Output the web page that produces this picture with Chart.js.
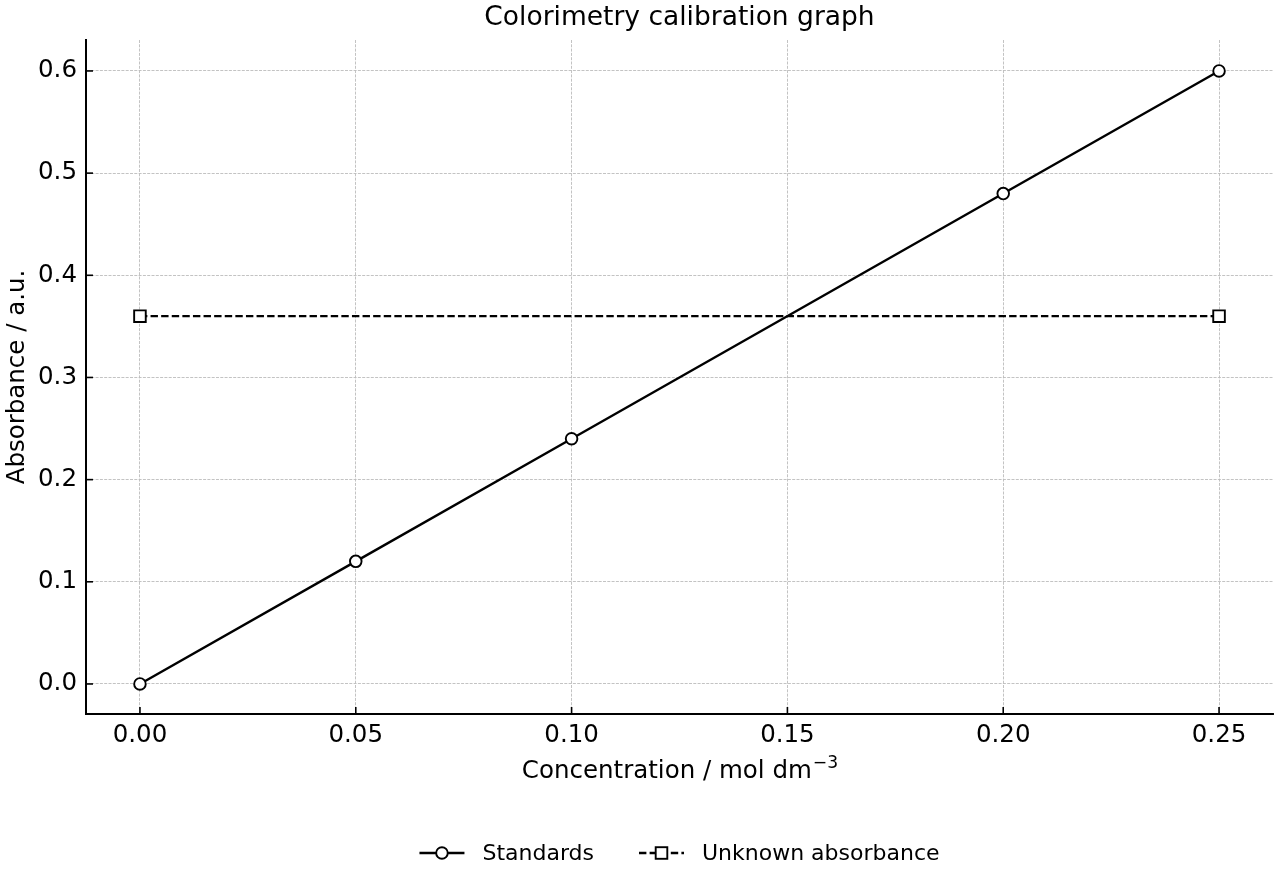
<!DOCTYPE html>
<html>
<head>
<meta charset="utf-8">
<script src="https://cdn.jsdelivr.net/npm/chart.js@4.4.1/dist/chart.umd.min.js"></script>
<style>
html,body{margin:0;padding:0;background:#fff;}
#wrap{width:1280px;height:880px;position:relative;}
</style>
</head>
<body>
<div id="wrap"><canvas id="c" width="1280" height="880"></canvas></div>
<script>
const chartTitle = "Colorimetry calibration graph";
const xTitleMain = "Concentration / mol dm";
const xTitleSup = "\u22123";
const yTitle = "Absorbance / a.u.";
const standardsX = [0.00, 0.05, 0.10, 0.20, 0.25];
const standardsY = [0.00, 0.12, 0.24, 0.48, 0.60];
const unknownX = [0.00, 0.25];
const unknownY = [0.36, 0.36];
const xTicks = [0.00, 0.05, 0.10, 0.15, 0.20, 0.25];
const yTicks = [0.0, 0.1, 0.2, 0.3, 0.4, 0.5, 0.6];
const seriesNames = ["Standards", "Unknown absorbance"];

const FONT = "'DejaVu Sans', sans-serif";
const TICK_SIZE = 24.5, AXIS_TITLE_SIZE = 24.5, TITLE_SIZE = 26.5, LEGEND_SIZE = 22;
const GRID_COLOR = '#bcbcbc';
const LINE_W = 2.4, MARK_W = 1.9;

const decorPlugin = {
  id: 'decor',
  afterDraw(chart) {
    const ctx = chart.ctx;
    const a = chart.chartArea;
    const xs = chart.scales.x, ys = chart.scales.y;
    ctx.save();
    // inward ticks
    ctx.strokeStyle = '#000';
    ctx.lineWidth = 1.6;
    xTicks.forEach(v => {
      const px = xs.getPixelForValue(v);
      ctx.beginPath(); ctx.moveTo(px, a.bottom); ctx.lineTo(px, a.bottom - 7); ctx.stroke();
    });
    yTicks.forEach(v => {
      const py = ys.getPixelForValue(v);
      ctx.beginPath(); ctx.moveTo(a.left, py); ctx.lineTo(a.left + 7, py); ctx.stroke();
    });
    // title
    ctx.fillStyle = '#000';
    ctx.textAlign = 'center';
    ctx.textBaseline = 'middle';
    ctx.font = TITLE_SIZE + 'px ' + FONT;
    ctx.fillText(chartTitle, (a.left + a.right) / 2, 18);
    // x title with superscript
    ctx.font = AXIS_TITLE_SIZE + 'px ' + FONT;
    const wMain = ctx.measureText(xTitleMain).width;
    const supSize = AXIS_TITLE_SIZE * 0.7;
    ctx.font = supSize + 'px ' + FONT;
    const wSup = ctx.measureText(xTitleSup).width;
    const cx = (a.left + a.right) / 2;
    const startX = cx - (wMain + wSup) / 2;
    ctx.textAlign = 'left';
    ctx.textBaseline = 'alphabetic';
    ctx.font = AXIS_TITLE_SIZE + 'px ' + FONT;
    const baseY = 778;
    ctx.fillText(xTitleMain, startX, baseY);
    ctx.font = supSize + 'px ' + FONT;
    ctx.fillText(xTitleSup, startX + wMain + 1, baseY - 10);
    // y title
    ctx.textAlign = 'center';
    ctx.textBaseline = 'middle';
    ctx.font = AXIS_TITLE_SIZE + 'px ' + FONT;
    ctx.save();
    ctx.translate(18, (a.top + a.bottom) / 2);
    ctx.rotate(-Math.PI / 2);
    ctx.fillText(yTitle, 0, 0);
    ctx.restore();
    // legend
    ctx.font = LEGEND_SIZE + 'px ' + FONT;
    ctx.textAlign = 'left';
    ctx.textBaseline = 'middle';
    const handle = 45, gapH = 18, gapItem = 45;
    const w0 = ctx.measureText(seriesNames[0]).width;
    const w1 = ctx.measureText(seriesNames[1]).width;
    const total = handle + gapH + w0 + gapItem + handle + gapH + w1;
    let x = (a.left + a.right) / 2 - total / 2;
    const ly = 853;
    // item 1
    ctx.lineWidth = LINE_W;
    ctx.setLineDash([]);
    ctx.beginPath(); ctx.moveTo(x, ly); ctx.lineTo(x + handle, ly); ctx.stroke();
    ctx.beginPath(); ctx.arc(x + handle / 2, ly, 5.8, 0, Math.PI * 2);
    ctx.fillStyle = '#fff'; ctx.fill(); ctx.lineWidth = MARK_W; ctx.stroke();
    ctx.fillStyle = '#000';
    ctx.fillText(seriesNames[0], x + handle + gapH, ly + 1);
    x += handle + gapH + w0 + gapItem;
    // item 2
    ctx.lineWidth = LINE_W;
    ctx.setLineDash([7.4, 3.2]);
    ctx.beginPath(); ctx.moveTo(x, ly); ctx.lineTo(x + handle, ly); ctx.stroke();
    ctx.setLineDash([]);
    ctx.fillStyle = '#fff';
    ctx.fillRect(x + handle / 2 - 5.8, ly - 5.8, 11.6, 11.6);
    ctx.lineWidth = MARK_W;
    ctx.strokeRect(x + handle / 2 - 5.8, ly - 5.8, 11.6, 11.6);
    ctx.fillStyle = '#000';
    ctx.fillText(seriesNames[1], x + handle + gapH, ly + 1);
    ctx.restore();
  }
};

new Chart(document.getElementById('c'), {
  type: 'scatter',
  data: {
    datasets: [
      {
        label: seriesNames[0],
        data: standardsX.map((v, i) => ({x: v, y: standardsY[i]})),
        showLine: true,
        borderColor: '#000',
        borderWidth: LINE_W,
        pointStyle: 'circle',
        pointRadius: 5.8,
        pointBackgroundColor: '#fff',
        pointBorderColor: '#000',
        pointBorderWidth: MARK_W,
        order: 2
      },
      {
        label: seriesNames[1],
        data: unknownX.map((v, i) => ({x: v, y: unknownY[i]})),
        showLine: true,
        borderColor: '#000',
        borderWidth: LINE_W,
        borderDash: [7.4, 3.2],
        pointStyle: 'rect',
        pointRadius: 8.2,
        pointBackgroundColor: '#fff',
        pointBorderColor: '#000',
        pointBorderWidth: MARK_W,
        order: 1
      }
    ]
  },
  plugins: [decorPlugin],
  options: {
    responsive: false,
    animation: false,
    devicePixelRatio: 1,
    layout: {autoPadding: false, padding: {left: 0, right: 7, top: 40, bottom: 0}},
    plugins: {legend: {display: false}, title: {display: false}, tooltip: {enabled: false}},
    scales: {
      x: {
        type: 'linear',
        min: -0.0125, max: 0.2625,
        afterFit(s) { s.height = 166; s.paddingLeft = 0; s.paddingRight = 0; },
        afterBuildTicks(s) { s.ticks = xTicks.map(v => ({value: v})); },
        ticks: {
          padding: 7,
          color: '#000',
          font: {family: FONT, size: TICK_SIZE},
          maxRotation: 0,
          callback: v => v.toFixed(2)
        },
        grid: {color: GRID_COLOR, lineWidth: 0.9, drawTicks: false, tickLength: 0},
        border: {display: true, color: '#000', width: 2, dash: [3, 1.3]}
      },
      y: {
        type: 'linear',
        min: -0.0294, max: 0.6303,
        afterFit(s) { s.width = 86; s.paddingTop = 0; s.paddingBottom = 0; },
        afterBuildTicks(s) { s.ticks = yTicks.map(v => ({value: v})); },
        ticks: {
          padding: 9,
          color: '#000',
          font: {family: FONT, size: TICK_SIZE},
          callback: v => v.toFixed(1)
        },
        grid: {color: GRID_COLOR, lineWidth: 0.9, drawTicks: false, tickLength: 0},
        border: {display: true, color: '#000', width: 2, dash: [3, 1.3]}
      }
    }
  }
});
</script>
</body>
</html>
